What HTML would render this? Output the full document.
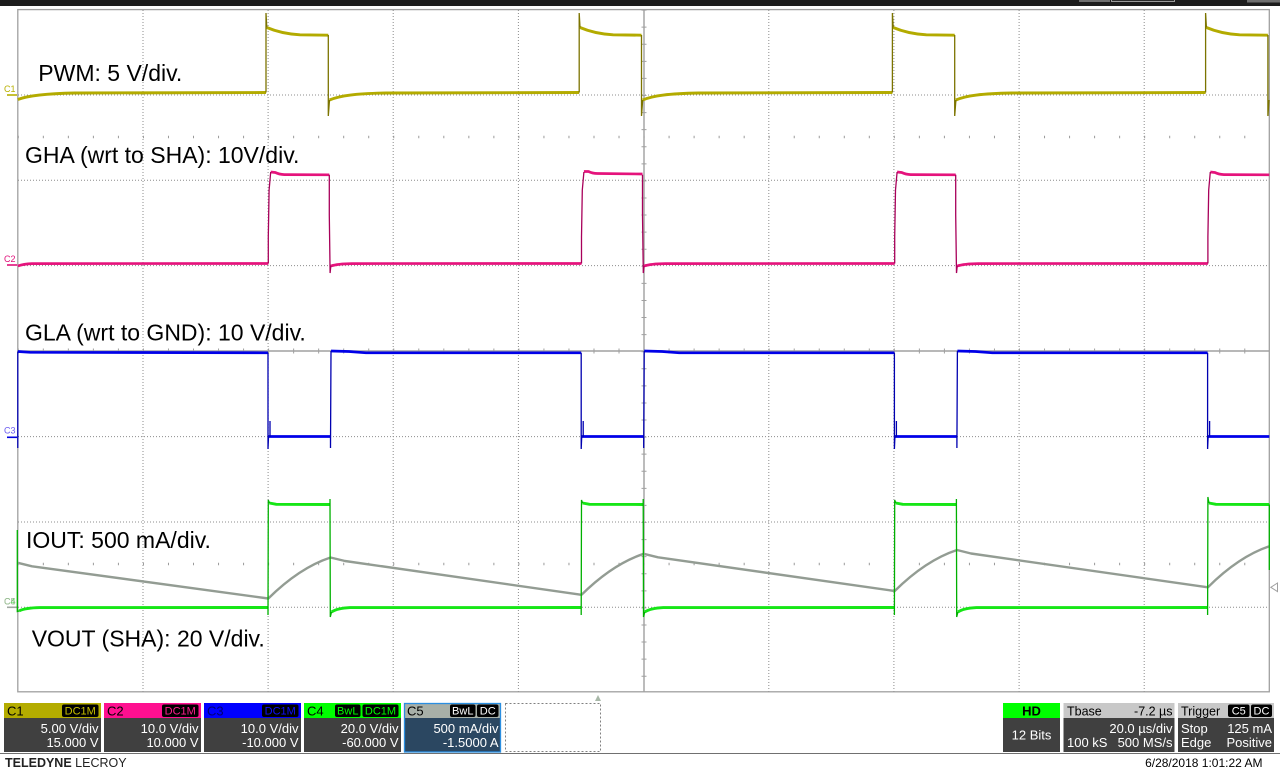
<!DOCTYPE html>
<html>
<head>
<meta charset="utf-8">
<style>
html,body{margin:0;padding:0;background:#fff;}
body{width:1280px;height:771px;overflow:hidden;}
svg{display:block;font-family:"Liberation Sans",Arial,sans-serif;}
</style>
</head>
<body>
<svg width="1280" height="771" viewBox="0 0 1280 771" xmlns="http://www.w3.org/2000/svg">
<rect x="0" y="0" width="1280" height="771" fill="#ffffff"/>
<!-- top bar -->
<rect x="0" y="0" width="1280" height="6" fill="#1c1c1c"/>
<rect x="1079" y="0" width="31" height="2" fill="#6e6e6e"/>
<rect x="1111.5" y="-1" width="63" height="2.5" fill="#2a2a2a" stroke="#b8b8b8" stroke-width="0.8"/>
<rect x="1247" y="0" width="33" height="2.5" fill="#6e6e6e"/>

<!-- plot border -->
<rect x="17.8" y="9.6" width="1251.5" height="682.2" fill="#ffffff" stroke="#a0a0a0" stroke-width="1.3"/>

<!-- dotted grid -->
<g stroke="#8c8c8c" stroke-width="1" stroke-dasharray="1 2" fill="none">
<path d="M143,10 V691.5 M268.1,10 V691.5 M393.2,10 V691.5 M518.4,10 V691.5 M768.8,10 V691.5 M893.9,10 V691.5 M1019.1,10 V691.5 M1144.2,10 V691.5"/>
<path d="M18,95 H1269 M18,180.3 H1269 M18,265.6 H1269 M18,436.6 H1269 M18,522 H1269 M18,607.3 H1269"/>
</g>
<!-- center axes -->
<g stroke="#a0a0a0" fill="none">
<path d="M18,351 H1269" stroke-width="1.4"/>
<path d="M644,10 V691.5" stroke-width="1.4"/>
<path d="M17.8,351 H1269.3" stroke-width="5" stroke-dasharray="1 24.03"/>
<path d="M644,9.6 V691.8" stroke-width="5" stroke-dasharray="1 16.08"/>
<path d="M17.8,137 H1269.3" stroke-width="2.5" stroke-dasharray="1 24.03" stroke="#9a9a9a"/>
<path d="M17.8,564 H1269.3" stroke-width="2.5" stroke-dasharray="1 24.03" stroke="#9a9a9a"/>
</g>

<!-- labels -->
<g font-size="23" fill="#000">
<text x="38.3" y="81">PWM: 5 V/div.</text>
<text x="25" y="163">GHA (wrt to SHA): 10V/div.</text>
<text x="25" y="340.5">GLA (wrt to GND): 10 V/div.</text>
<text x="26" y="548">IOUT: 500 mA/div.</text>
<text x="31.7" y="646.5">VOUT (SHA): 20 V/div.</text>
</g>

<!-- channel markers -->
<g font-size="9">
<text x="4" y="92" fill="#b8b000">C1</text>
<text x="4" y="262" fill="#e0107a">C2</text>
<text x="4" y="433.5" fill="#6a5af0">C3</text>
<text x="4" y="604.5" fill="#44d044">C4</text>
<text x="4" y="604.5" fill="#a8b8a0">C5</text>
</g>
<path d="M7,95 H17" stroke="#b8b000" stroke-width="1.6"/>
<path d="M7,265 H17" stroke="#e0107a" stroke-width="1.6"/>
<path d="M7,437.3 H17" stroke="#0000e0" stroke-width="1.6"/>
<path d="M7,607.3 H17" stroke="#a0a8a0" stroke-width="1.6"/>

<!-- C1 PWM -->
<g fill="none" stroke="#b3ab00" stroke-width="2.9" stroke-linejoin="round">
<path d="M17.8,99.5 C28,95.5 45,93.6 75,93 L266,92.5"/>
<path d="M329.5,100 C340,95.5 356,93.6 386,93 L579.2,92.5"/>
<path d="M642.7,100 C653,95.5 669,93.6 699,93 L892.4,92.5"/>
<path d="M955.9,100 C966,95.5 982,93.6 1012,93 L1205.6,92.5"/>
<path d="M266.8,27.5 C275,31 285,34 300,34.8 L328.3,35.2"/>
<path d="M580,27.5 C588.2,31 598.2,34 613.2,34.8 L641.5,35.2"/>
<path d="M893.2,27.5 C901.4,31 911.4,34 926.4,34.8 L954.7,35.2"/>
<path d="M1206.4,27.5 C1214.6,31 1224.6,34 1239.6,34.8 L1267.9,35.2"/>
</g>
<g fill="none" stroke="#7c7400" stroke-width="1.3">
<path d="M266,92.5 L266,13 L266.8,27.5"/>
<path d="M579.2,92.5 L579.2,13 L580,27.5"/>
<path d="M892.4,92.5 L892.4,13 L893.2,27.5"/>
<path d="M1205.6,92.5 L1205.6,13 L1206.4,27.5"/>
<path d="M328.3,35 L328.3,116 L329.5,100"/>
<path d="M641.5,35 L641.5,116 L642.7,100"/>
<path d="M954.7,35 L954.7,116 L955.9,100"/>
<path d="M1267.9,35 L1267.9,116 L1269,100"/>
</g>

<!-- C2 GHA -->
<g fill="none" stroke="#e5137c" stroke-width="2.7" stroke-linejoin="round">
<path d="M17.8,266 C22,264.5 26,263.8 32,263.6 L268.3,263.5"/>
<path d="M330.8,266 C336,264.3 342,263.7 352,263.6 L581.5,263.5"/>
<path d="M644,266 C649.2,264.3 655.2,263.7 665.2,263.6 L894.7,263.5"/>
<path d="M957.2,266 C962.4,264.3 968.4,263.7 978.4,263.6 L1207.9,263.5"/>
<path d="M270.7,172 L275.3,172.5 C278.3,174 280.3,174.5 284.3,174.6 L329.3,174.8"/>
<path d="M583.9,171.5 L588.5,171.5 C591.5,173 593.5,173.5 597.5,173.5 L642.5,174"/>
<path d="M897.1,172 L901.7,172.5 C904.7,174 906.7,174.5 910.7,174.6 L955.7,174.8"/>
<path d="M1210.3,172 L1214.9,172.5 C1217.9,174 1219.9,174.5 1223.9,174.6 L1269.3,174.8"/>
</g>
<g fill="none" stroke="#a8005a" stroke-width="1.3">
<path d="M268.3,263.5 L268.3,237 L269.1,190 L270.7,172"/>
<path d="M581.5,263.5 L581.5,237 L582.3,190 L583.9,172"/>
<path d="M894.7,263.5 L894.7,237 L895.5,190 L897.1,172"/>
<path d="M1207.9,263.5 L1207.9,237 L1208.7,190 L1210.3,172"/>
<path d="M329.3,174.8 L329.3,215 L330.1,273 L330.8,266"/>
<path d="M642.5,174.8 L642.5,215 L643.3,273 L644,266"/>
<path d="M955.7,174.8 L955.7,215 L956.5,273 L957.2,266"/>
</g>

<!-- C3 GLA -->
<g fill="none" stroke="#0000e8" stroke-width="2.7" stroke-linejoin="round">
<path d="M17.8,351.5 L30,352.3 L268,352.8"/>
<path d="M331,351 L349,351.5 L366,352.8 L581.2,352.8"/>
<path d="M644.2,351 L662.2,351.5 L679.2,352.8 L894.4,352.8"/>
<path d="M957.4,351 L975.4,351.5 L992.4,352.8 L1207.6,352.8"/>
<path d="M268,436.5 L331,436.5"/>
<path d="M581.2,436.5 L644.2,436.5"/>
<path d="M894.4,436.5 L957.4,436.5"/>
<path d="M1207.6,436.5 L1269.3,436.5"/>
</g>
<g fill="none" stroke="#0000b0" stroke-width="1.3">
<path d="M17.8,448 L17.8,351.5"/>
<path d="M268,352.8 L268,449 L268.5,437 M270,437 L270,421"/>
<path d="M581.2,352.8 L581.2,449 L581.7,437 M583.2,437 L583.2,421"/>
<path d="M894.4,352.8 L894.4,449 L894.9,437 M896.4,437 L896.4,421"/>
<path d="M1207.6,352.8 L1207.6,449 L1208.1,437 M1209.6,437 L1209.6,421"/>
<path d="M330.5,436.5 L330.5,448 L331,351"/>
<path d="M643.7,436.5 L643.7,448 L644.2,351"/>
<path d="M956.9,436.5 L956.9,448 L957.4,351"/>
</g>

<!-- C5 IOUT -->
<path d="M17.8,562.8 L32,566.3 L268.3,598.5 Q299.4,567.8 330.5,557.5 L345,561 L581.5,594.8 Q612.6,564.1 643.7,553.8 L658,557.3 L894.7,591 Q925.8,560.3 957,550 L971,553.5 L1207.9,587.3 Q1238.6,556.7 1269.3,546.3" fill="none" stroke="#939c93" stroke-width="2.4" stroke-linejoin="round"/>

<!-- C4 VOUT -->
<g fill="none" stroke="#16e616" stroke-width="2.9" stroke-linejoin="round">
<path d="M19,611 C24,608.5 30,607.8 40,607.6 L268,607.5"/>
<path d="M331.5,612 C336,609 342,608 350,607.6 L581.2,607.5"/>
<path d="M644.7,612 C649.2,609 655.2,608 663.2,607.6 L894.4,607.5"/>
<path d="M957.9,612 C962.4,609 968.4,608 976.4,607.6 L1207.6,607.5"/>
<path d="M269.3,503 L276.3,504.3 L330,504.5"/>
<path d="M582.5,503 L589.5,504.3 L643.2,504.5"/>
<path d="M895.7,503 L902.7,504.3 L956.4,504.5"/>
<path d="M1208.9,503 L1215.9,504.3 L1269.3,504.5"/>
</g>
<g fill="none" stroke="#00b000" stroke-width="1.3">
<path d="M17.3,530 L17.3,611.5 L19,611"/>
<path d="M268,607.5 L268,615 L268.3,500 L269.3,503"/>
<path d="M581.2,607.5 L581.2,615 L581.5,500 L582.5,503"/>
<path d="M894.4,607.5 L894.4,615 L894.7,500 L895.7,503"/>
<path d="M1207.6,607.5 L1207.6,615 L1207.9,497 L1208.9,503"/>
<path d="M330,504.5 L330,499 L330.3,617 L331.5,612"/>
<path d="M643.2,504.5 L643.2,499 L643.5,617 L644.7,612"/>
<path d="M956.4,504.5 L956.4,499 L956.7,617 L957.9,612"/>
<path d="M1269.3,504.5 L1269.3,570"/>
</g>

<!-- trigger marker -->
<polygon points="1277.5,583 1270.8,587.3 1277.5,591.6" fill="#fff" stroke="#a0a0a0" stroke-width="1"/>
<!-- bottom marker -->
<polygon points="595,701 601,701 598,695" fill="#a8b8a8"/>

<!-- channel boxes -->
<g font-size="13">
<!-- C1 -->
<rect x="4" y="703" width="97" height="15" fill="#b4ac00"/>
<rect x="4" y="718" width="97" height="34" fill="#404040"/>
<text x="7" y="715.5" fill="#000">C1</text>
<rect x="62" y="704.5" width="36.5" height="12.5" rx="2" fill="#000"/>
<text x="80.25" y="714.5" font-size="11" fill="#c8c000" text-anchor="middle">DC1M</text>
<text x="98.5" y="733" fill="#fff" text-anchor="end">5.00 V/div</text>
<text x="98.5" y="747" fill="#fff" text-anchor="end">15.000 V</text>
<!-- C2 -->
<rect x="104" y="703" width="97" height="15" fill="#ff1090"/>
<rect x="104" y="718" width="97" height="34" fill="#404040"/>
<text x="107" y="715.5" fill="#000">C2</text>
<rect x="162" y="704.5" width="36.5" height="12.5" rx="2" fill="#000"/>
<text x="180.25" y="714.5" font-size="11" fill="#ff2090" text-anchor="middle">DC1M</text>
<text x="198.5" y="733" fill="#fff" text-anchor="end">10.0 V/div</text>
<text x="198.5" y="747" fill="#fff" text-anchor="end">10.000 V</text>
<!-- C3 -->
<rect x="204" y="703" width="97" height="15" fill="#0000ff"/>
<rect x="204" y="718" width="97" height="34" fill="#404040"/>
<text x="207" y="715.5" fill="#000070">C3</text>
<rect x="262" y="704.5" width="36.5" height="12.5" rx="2" fill="#000"/>
<text x="280.25" y="714.5" font-size="11" fill="#1010ff" text-anchor="middle">DC1M</text>
<text x="298.5" y="733" fill="#fff" text-anchor="end">10.0 V/div</text>
<text x="298.5" y="747" fill="#fff" text-anchor="end">-10.000 V</text>
<!-- C4 -->
<rect x="304" y="703" width="97" height="15" fill="#00ff00"/>
<rect x="304" y="718" width="97" height="34" fill="#404040"/>
<text x="307" y="715.5" fill="#000">C4</text>
<rect x="335" y="704.5" width="25.5" height="12.5" rx="2" fill="#000"/>
<text x="347.75" y="714.5" font-size="11" fill="#00ff00" text-anchor="middle">BwL</text>
<rect x="362.5" y="704.5" width="36" height="12.5" rx="2" fill="#000"/>
<text x="380.5" y="714.5" font-size="11" fill="#00ff00" text-anchor="middle">DC1M</text>
<text x="398.5" y="733" fill="#fff" text-anchor="end">20.0 V/div</text>
<text x="398.5" y="747" fill="#fff" text-anchor="end">-60.000 V</text>
<!-- C5 -->
<rect x="404" y="703" width="97" height="15" fill="#a8b0a8"/>
<rect x="404" y="718" width="97" height="34" fill="#2b4761"/>
<rect x="404.5" y="703.5" width="96" height="48.5" fill="none" stroke="#2a8ee0" stroke-width="1.3"/>
<text x="407" y="715.5" fill="#000">C5</text>
<rect x="450" y="704.5" width="25.5" height="12.5" rx="2" fill="#000"/>
<text x="462.75" y="714.5" font-size="11" fill="#fff" text-anchor="middle">BwL</text>
<rect x="477" y="704.5" width="21.5" height="12.5" rx="2" fill="#000"/>
<text x="487.75" y="714.5" font-size="11" fill="#fff" text-anchor="middle">DC</text>
<text x="498.5" y="733" fill="#fff" text-anchor="end">500 mA/div</text>
<text x="498.5" y="747" fill="#fff" text-anchor="end">-1.5000 A</text>
<!-- dashed -->
<rect x="505.5" y="703.5" width="95" height="48" fill="none" stroke="#808080" stroke-width="1" stroke-dasharray="2 2"/>

<!-- HD -->
<rect x="1003" y="703" width="57" height="15" fill="#00ff00"/>
<rect x="1003" y="718" width="57" height="34" fill="#404040"/>
<text x="1031.5" y="715.5" fill="#000" font-weight="bold" text-anchor="middle">HD</text>
<text x="1031.5" y="739.5" fill="#fff" text-anchor="middle">12 Bits</text>
<!-- Tbase -->
<rect x="1063.5" y="703" width="111" height="15" fill="#c8c8c8"/>
<rect x="1063.5" y="718" width="111" height="34" fill="#404040"/>
<text x="1067" y="715.5" font-size="12.5" fill="#000">Tbase</text>
<text x="1172.5" y="715.5" font-size="12.5" fill="#000" text-anchor="end">-7.2 µs</text>
<text x="1172.5" y="733" fill="#fff" text-anchor="end">20.0 µs/div</text>
<text x="1067" y="747" fill="#fff">100 kS</text>
<text x="1172.5" y="747" fill="#fff" text-anchor="end">500 MS/s</text>
<!-- Trigger -->
<rect x="1178" y="703" width="96" height="15" fill="#c8c8c8"/>
<rect x="1178" y="718" width="96" height="34" fill="#404040"/>
<text x="1181" y="715.5" font-size="12.5" fill="#000">Trigger</text>
<rect x="1228" y="704.5" width="21.5" height="12.5" rx="2" fill="#000"/>
<text x="1238.75" y="714.5" font-size="11" fill="#fff" text-anchor="middle">C5</text>
<rect x="1251" y="704.5" width="21" height="12.5" rx="2" fill="#000"/>
<text x="1261.5" y="714.5" font-size="11" fill="#fff" text-anchor="middle">DC</text>
<text x="1181" y="733" fill="#fff">Stop</text>
<text x="1272" y="733" fill="#fff" text-anchor="end">125 mA</text>
<text x="1181" y="747" fill="#fff">Edge</text>
<text x="1272" y="747" fill="#fff" text-anchor="end">Positive</text>
</g>

<!-- footer -->
<path d="M0,753.5 H1280" stroke="#707070" stroke-width="1"/>
<text x="5" y="767" font-size="12.5" fill="#222"><tspan font-weight="bold">TELEDYNE</tspan> LECROY</text>
<text x="1262.5" y="767" font-size="12" fill="#000" text-anchor="end">6/28/2018 1:01:22 AM</text>
</svg>
</body>
</html>
